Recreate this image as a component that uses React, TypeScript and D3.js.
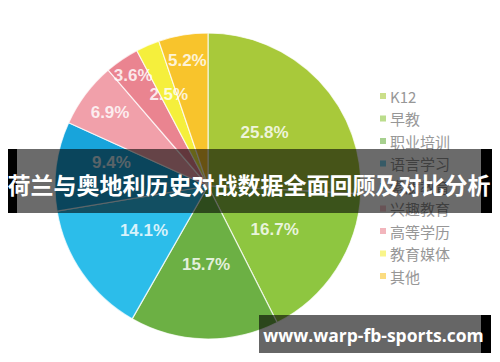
import React from "react";
import * as d3 from "d3";

const categories = ["K12", "早教", "职业培训", "语言学习", "素质教育", "兴趣教育", "高等学历", "教育媒体", "其他"];
const shares = [25.8, 16.7, 15.7, 14.1, 9.4, 6.9, 3.6, 2.5, 5.2];
const valueLabels = ["25.8%", "16.7%", "15.7%", "14.1%", "9.4%", "6.9%", "3.6%", "2.5%", "5.2%"];
const bannerTitle = "荷兰与奥地利历史对战数据全面回顾及对比分析";
const watermark = "www.warp-fb-sports.com";

// layout / style
const sliceColors = ["#a8c93a", "#8ec640", "#6cb044", "#2cbdea", "#18a4db", "#f1a0aa", "#ea8490", "#f5ef3c", "#f8c42c"];
const labelRadiusFactor = [0.51, 0.52, 0.51, 0.51, 0.65, 0.8, 0.87, 0.65, 0.83];
const labelAngleShift = [0, 0, 0, 0, 0.11, 0, 0, 0, 0];

const W = 500, H = 362;
const cx = 208, cy = 186, R = 153;

export default function App() {
  const pie = d3.pie<number>().sort(null).value((d) => d).startAngle(0).endAngle(2 * Math.PI);
  const arcs = pie(shares);
  const arc = d3.arc<d3.PieArcDatum<number>>().innerRadius(0).outerRadius(R);
  const legendY = d3.scaleLinear().domain([0, categories.length - 1]).range([96, 276]);

  return (
    <svg width={W} height={H} style={{ position: "absolute", left: 0, top: 0, background: "#fff" }}
      fontFamily="'Liberation Sans', Arial, sans-serif">
      <rect width={W} height={H} fill="#fff" />
      <g transform={`translate(${cx},${cy})`}>
        {arcs.map((a, i) => (
          <path key={i} d={arc(a) || ""} fill={sliceColors[i]} stroke="#ffffff" strokeOpacity={0.75} strokeWidth={1.2} />
        ))}
        {arcs.map((a, i) => {
          const mid = (a.startAngle + a.endAngle) / 2 + labelAngleShift[i];
          const r = R * labelRadiusFactor[i];
          const x = Math.sin(mid) * r;
          const y = -Math.cos(mid) * r;
          return (
            <text key={i} x={x} y={y} textAnchor="middle" dominantBaseline="central"
              fontSize={17} fontWeight="bold" fill="#ffffff" fillOpacity={0.82}>
              {valueLabels[i]}
            </text>
          );
        })}
      </g>
      <g>
        {categories.map((c, i) => (
          <g key={c} transform={`translate(380,${legendY(i)})`}>
            <rect x={0} y={-3} width={6} height={6} fill={sliceColors[i]} opacity={0.6} />
            <text x={10} y={0} dominantBaseline="central" fontSize={15}
              fontFamily="'Noto Sans CJK SC', sans-serif" fill="#979797">{c}</text>
          </g>
        ))}
      </g>
      <g>
        <rect x={8} y={149} width={484} height={64} fill="#000" fillOpacity={0.58} />
        <rect x={8} y={149} width={9} height={64} fill="#000" />
        <rect x={481} y={149} width={11} height={64} fill="#000" />
        <text x={249} y={184} textAnchor="middle" dominantBaseline="central" fontSize={23} fontWeight="bold"
          fontFamily="'Noto Sans CJK SC', sans-serif" fill="#fff">{bannerTitle}</text>
      </g>
      <g>
        <rect x={259} y={315} width={232} height={38} fill="#000" fillOpacity={0.6} />
        <rect x={481} y={315} width={10} height={38} fill="#000" />
        <text x={373.5} y={335} textAnchor="middle" dominantBaseline="central" fontSize={17.5} fontWeight="bold"
          fontFamily="'Open Sans', sans-serif" fill="#fff">{watermark}</text>
      </g>
    </svg>
  );
}
